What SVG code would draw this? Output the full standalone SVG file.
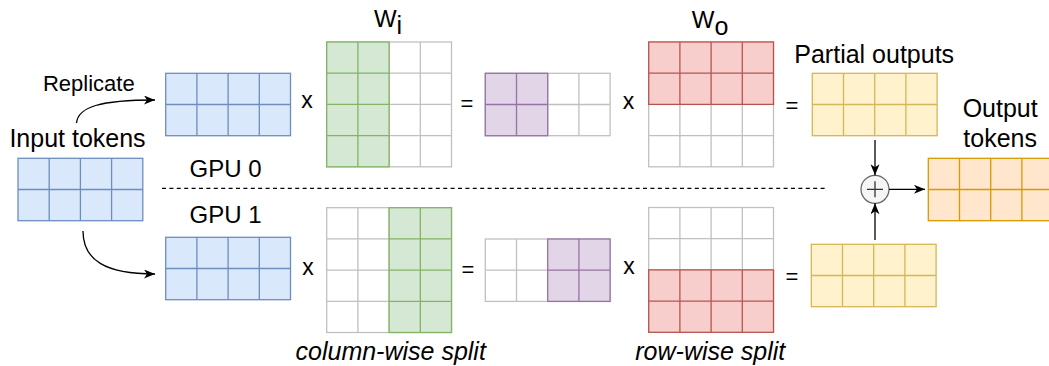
<svg xmlns="http://www.w3.org/2000/svg" xmlns:xlink="http://www.w3.org/1999/xlink" width="1049" height="366" viewBox="0 0 1049 366">
<style>
text{font-family:"Liberation Sans",Arial,Helvetica,sans-serif;fill:#000}
.t25{font-size:25px}
.t24{font-size:24px}
.it{font-size:25px;font-style:italic}
.op{font-size:23px}
.eq{font-size:22px}
use,rect,path{stroke-width:1.3}
.blue{fill:#dae8fc;stroke:#6c8ebf}
.gray{fill:#ffffff;stroke:#c0c0c0}
.green{fill:#d5e8d4;stroke:#82b366}
.purple{fill:#e1d5e7;stroke:#9673a6}
.red{fill:#f8cecc;stroke:#b85450}
.yellow{fill:#fff2cc;stroke:#d6b656}
.orange{fill:#ffe6cc;stroke:#d79b00}
.conn{fill:none;stroke:#000;stroke-width:1.3}
</style>
<defs>
<g id="g42"><rect width="124.8" height="62.4"/><path d="M31.2 0V62.4M62.4 0V62.4M93.6 0V62.4M0 31.2H124.8"/></g>
<g id="g44"><rect width="124.8" height="124.8"/><path d="M31.2 0V124.8M62.4 0V124.8M93.6 0V124.8M0 31.2H124.8M0 62.4H124.8M0 93.6H124.8"/></g>
<g id="g24"><rect width="62.4" height="124.8"/><path d="M31.2 0V124.8M0 31.2H62.4M0 62.4H62.4M0 93.6H62.4"/></g>
<g id="g22"><rect width="62.4" height="62.4"/><path d="M31.2 0V62.4M0 31.2H62.4"/></g>
<marker id="arr" markerUnits="userSpaceOnUse" markerWidth="12" markerHeight="10" refX="11" refY="4.5" orient="auto" viewBox="0 0 12 10"><path d="M0,0 L11,4.5 L0,9 L3,4.5z" fill="#000" stroke="none"/></marker>
</defs>

<g id="input-tokens">
<use xlink:href="#g42" class="blue" x="18" y="158.3"/>
<text class="t25" x="77.5" y="147.3" text-anchor="middle">Input tokens</text>
</g>
<g id="replicate-label"><text x="88.8" y="90.7" font-size="22" text-anchor="middle">Replicate</text></g>
<g id="gpu-labels">
<text class="t24" x="225.5" y="176.5" text-anchor="middle">GPU 0</text>
<text class="t24" x="225.5" y="222.7" text-anchor="middle">GPU 1</text>
</g>

<g id="x0-top"><use xlink:href="#g42" class="blue" x="165.7" y="73.3"/></g>
<g id="x0-bottom"><use xlink:href="#g42" class="blue" x="165.7" y="237.3"/></g>

<g id="wi-top">
<use xlink:href="#g44" class="gray" x="326.7" y="42"/>
<use xlink:href="#g24" class="green" x="326.7" y="42"/>
<text class="t24" x="388" y="27.3" text-anchor="middle">W<tspan dy="6.5" font-size="25">i</tspan></text>
</g>
<g id="wi-bottom">
<use xlink:href="#g44" class="gray" x="326.7" y="207.7"/>
<use xlink:href="#g24" class="green" x="389.1" y="207.7"/>
</g>

<g id="h-top">
<use xlink:href="#g42" class="gray" x="485.3" y="73.3"/>
<use xlink:href="#g22" class="purple" x="485.3" y="73.3"/>
</g>
<g id="h-bottom">
<use xlink:href="#g42" class="gray" x="485.3" y="239"/>
<use xlink:href="#g22" class="purple" x="547.7" y="239"/>
</g>

<g id="wo-top">
<use xlink:href="#g44" class="gray" x="648.7" y="42"/>
<use xlink:href="#g42" class="red" x="648.7" y="42"/>
<text class="t24" x="710" y="28.3" text-anchor="middle">W<tspan dy="6.7" font-size="25">o</tspan></text>
</g>
<g id="wo-bottom">
<use xlink:href="#g44" class="gray" x="648.7" y="207.5"/>
<use xlink:href="#g42" class="red" x="648.7" y="269.9"/>
</g>

<g id="partial-top">
<use xlink:href="#g42" class="yellow" x="812.3" y="73.3"/>
<text class="t25" x="874.2" y="63.3" text-anchor="middle">Partial outputs</text>
</g>
<g id="partial-bottom"><use xlink:href="#g42" class="yellow" x="811.3" y="244.3"/></g>

<g id="sum">
<circle cx="875" cy="189.3" r="14" fill="#f5f5f5" stroke="#666666" stroke-width="1.3"/>
<path d="M867 189.3H883M875 181.3V197.3" stroke="#333333" stroke-width="2.2" fill="none"/>
</g>

<g id="output-tokens">
<use xlink:href="#g42" class="orange" x="928.3" y="158.3"/>
<text class="t25" x="1000.2" y="116.7" text-anchor="middle">Output</text>
<text class="t25" x="1000.2" y="146.7" text-anchor="middle">tokens</text>
</g>

<g id="operators">
<text class="op" x="307" y="108.3" text-anchor="middle">x</text>
<text class="eq" x="467" y="110.5" text-anchor="middle">=</text>
<text class="op" x="628.5" y="109.3" text-anchor="middle">x</text>
<text class="eq" x="792" y="113" text-anchor="middle">=</text>
<text class="op" x="308" y="275" text-anchor="middle">x</text>
<text class="eq" x="468" y="276.5" text-anchor="middle">=</text>
<text class="op" x="629" y="274.3" text-anchor="middle">x</text>
<text class="eq" x="792" y="284" text-anchor="middle">=</text>
</g>

<g id="split-labels">
<text class="it" x="390.7" y="360" text-anchor="middle">column-wise split</text>
<text class="it" x="710.3" y="360" text-anchor="middle">row-wise split</text>
</g>

<g id="connectors">
<path class="conn" d="M162 188.3H827" stroke-dasharray="4 3.4"/>
<path class="conn" d="M76.5 123C78 107 100 100 155 100" marker-end="url(#arr)"/>
<path class="conn" d="M83 231C83 260 105 274 155 274" marker-end="url(#arr)"/>
<path class="conn" d="M875 140V175.3" marker-end="url(#arr)"/>
<path class="conn" d="M875 240V203.3" marker-end="url(#arr)"/>
<path class="conn" d="M889 189.3H925" marker-end="url(#arr)"/>
</g>
</svg>
